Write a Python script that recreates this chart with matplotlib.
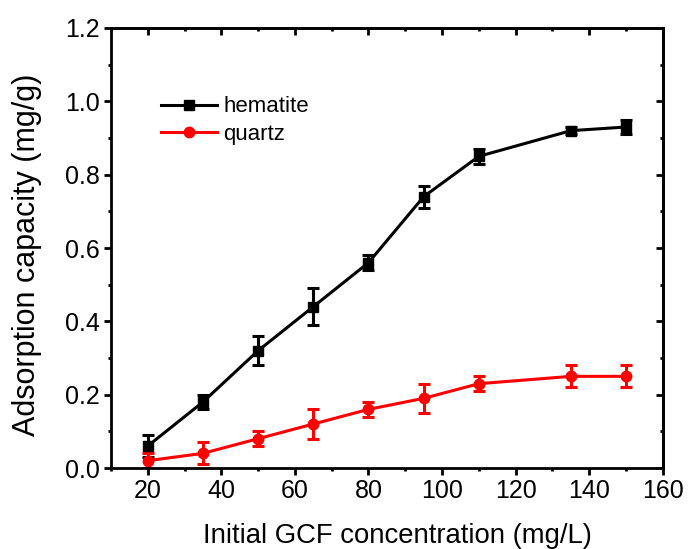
import matplotlib
matplotlib.use("Agg")
import matplotlib.pyplot as plt
from matplotlib.ticker import MultipleLocator
from matplotlib.lines import Line2D

plt.rcParams['font.family'] = ['Liberation Sans', 'DejaVu Sans']

conc = [20, 35, 50, 65, 80, 95, 110, 135, 150]
hematite = [0.06, 0.18, 0.32, 0.44, 0.56, 0.74, 0.85, 0.92, 0.93]
hematite_err = [0.03, 0.02, 0.04, 0.05, 0.02, 0.03, 0.02, 0.01, 0.02]
quartz = [0.02, 0.04, 0.08, 0.12, 0.16, 0.19, 0.23, 0.25, 0.25]
quartz_err = [0.02, 0.03, 0.02, 0.04, 0.02, 0.04, 0.02, 0.03, 0.03]

fig = plt.figure(figsize=(6.89, 5.49), dpi=100)
ax = fig.add_axes([0.161, 0.1475, 0.801, 0.8015])

ax.errorbar(conc, hematite, yerr=hematite_err, color='black', marker='s', ms=6.5,
            lw=2.2, elinewidth=2.2, capsize=4.5, capthick=2.2)
ax.errorbar(conc, quartz, yerr=quartz_err, color='red', marker='o', ms=7.5,
            lw=2.2, elinewidth=2.2, capsize=4.5, capthick=2.2)

ax.set_xlim(10, 160)
ax.set_ylim(0, 1.2)
ax.xaxis.set_major_locator(MultipleLocator(20))
ax.xaxis.set_minor_locator(MultipleLocator(10))
ax.yaxis.set_major_locator(MultipleLocator(0.2))
ax.yaxis.set_minor_locator(MultipleLocator(0.1))
ax.yaxis.set_major_formatter(matplotlib.ticker.FormatStrFormatter('%.1f'))
for s in ax.spines.values():
    s.set_linewidth(2)
ax.tick_params(which='major', direction='out', length=5, width=2, labelsize=18, pad=3)
ax.tick_params(which='minor', direction='out', length=2.5, width=2)

secx = ax.secondary_xaxis('top')
secx.xaxis.set_major_locator(MultipleLocator(20))
secx.xaxis.set_minor_locator(MultipleLocator(10))
secx.tick_params(which='major', direction='in', length=5, width=2, labeltop=False)
secx.tick_params(which='minor', direction='in', length=2.5, width=2)
secx.spines['top'].set_linewidth(2)
secy = ax.secondary_yaxis('right')
secy.yaxis.set_major_locator(MultipleLocator(0.2))
secy.yaxis.set_minor_locator(MultipleLocator(0.1))
secy.tick_params(which='major', direction='in', length=5, width=2, labelright=False)
secy.tick_params(which='minor', direction='in', length=2.5, width=2)
secy.spines['right'].set_linewidth(2)

ax.set_xlabel('Initial GCF concentration (mg/L)', fontsize=19.8, va='baseline')
ax.xaxis.set_label_coords(0.52, -75 / 440.0)
ax.set_ylabel('Adsorption capacity (mg/g)', fontsize=22)
ax.yaxis.set_label_coords(-0.125, 0.484)

handles = [Line2D([], [], color='black', marker='s', ms=6.5, lw=2.2),
           Line2D([], [], color='red', marker='o', ms=7.5, lw=2.2)]
ax.legend(handles, ['hematite', 'quartz'], loc='upper left',
          bbox_to_anchor=(0.055, 0.89), frameon=False,
          fontsize=16, handlelength=2.5, handletextpad=0.3, labelspacing=0.3)

fig.savefig('out.png', dpi=100)
